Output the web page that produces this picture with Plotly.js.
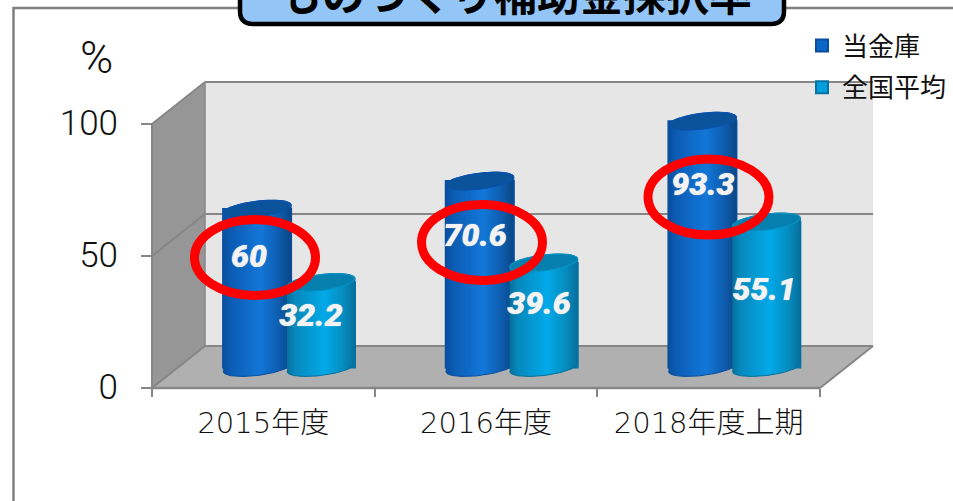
<!DOCTYPE html>
<html><head><meta charset="utf-8">
<script src="https://cdn.plot.ly/plotly-3.0.1.min.js"></script>
<style>html,body{margin:0;padding:0;background:#fff;overflow:hidden}#c{width:953px;height:501px}</style>
</head><body><div id="c"></div>
<script>
var categories = ['2015年度','2016年度','2018年度上期'];
var ownValues = [60, 70.6, 93.3];
var nationalValues = [32.2, 39.6, 55.1];
var ownName = '当金庫';
var nationalName = '全国平均';
var titleText = 'ものづくり補助金採択率';
var yTicks = [0, 50, 100];

var W = 953, H = 501;
var x0px = 152, x3px = 820, y0px = 388, y100px = 124;
var ux = (x3px - x0px) / 3, uy = (y0px - y100px) / 100;
var X = function (p) { return (p - x0px) / ux; };
var Y = function (p) { return (y0px - p) / uy; };
var xRange = [X(0), X(W)], yRange = [Y(H), Y(0)];

var depthX = 53 / ux, depthY = 42 / uy;
var floorLift = 20.5 / uy;
var halfW = 34 / ux, ry = 8 / uy, skew = 4 / uy;
var ownOffset = 0.472, nationalOffset = 0.759;
var ownLabelX = [0.436, 1.451, 2.474], ownLabelY = [49, 57, 76.2];
var nationalLabelX = [0.714, 1.738, 2.749], nationalLabelY = [26.4, 31, 36.2];

var ownStops = [[0,'#0A4E9E'],[0.12,'#0B5CB4'],[0.55,'#1277D8'],[0.82,'#0D5CAE'],[1,'#0A4684']];
var natStops = [[0,'#066F9C'],[0.12,'#0688BC'],[0.55,'#02A9E8'],[0.82,'#058DC0'],[1,'#066F9C']];

function arc(cx, cy, t0, t1) {
  var xs = [], ys = [], n = 40;
  for (var i = 0; i <= n; i++) {
    var t = t0 + (t1 - t0) * i / n;
    xs.push(cx + halfW * Math.cos(t));
    ys.push(cy + ry * Math.sin(t) + skew * Math.cos(t));
  }
  return [xs, ys];
}
function cylinder(cx, v, stops, capFill, capLine, edge) {
  var b = arc(cx, floorLift, Math.PI, 2 * Math.PI);
  var top = arc(cx, floorLift + v, 0, Math.PI);
  var cap = arc(cx, floorLift + v, 0, 2 * Math.PI);
  return [{
    type: 'scatter', mode: 'lines', x: b[0].concat(top[0]), y: b[1].concat(top[1]),
    fill: 'toself', fillgradient: {type: 'horizontal', colorscale: stops},
    line: {color: edge, width: 1}, showlegend: false, hoverinfo: 'skip'
  }, {
    type: 'scatter', mode: 'lines', x: cap[0], y: cap[1], fill: 'toself', fillcolor: capFill,
    line: {color: capLine, width: 1.2}, showlegend: false, hoverinfo: 'skip'
  }];
}

var traces = [];
function barTrace(name, vals, off, color, edge) {
  return {
    type: 'bar', name: name, legendgroup: name,
    x: vals.map(function (_, i) { return i + off; }),
    y: vals, base: floorLift, width: 2 * halfW,
    marker: {color: color, line: {color: edge, width: 2}},
    hoverinfo: 'skip'
  };
}
traces.push(barTrace(ownName, ownValues, ownOffset, '#0B67C6', '#0A4E9E'));
traces.push(barTrace(nationalName, nationalValues, nationalOffset, '#049FDC', '#0673A4'));
ownValues.forEach(function (v, i) {
  traces = traces.concat(cylinder(i + ownOffset, v, ownStops, '#0A5299', '#0B52AE', '#0A4E9E'));
});
nationalValues.forEach(function (v, i) {
  traces = traces.concat(cylinder(i + nationalOffset, v, natStops, '#0580AE', '#0592C4', '#066F9C'));
});
var labelFont = {family: 'Roboto, "Open Sans", sans-serif', size: 32, weight: 900, style: 'italic', color: '#F3F3F3', shadow: '0 0 1px #F3F3F3'};
traces.push({type: 'scatter', mode: 'text', x: ownLabelX, y: ownLabelY, text: ownValues.map(String),
  textfont: labelFont, textposition: 'middle center', showlegend: false, hoverinfo: 'skip'});
traces.push({type: 'scatter', mode: 'text', x: nationalLabelX, y: nationalLabelY, text: nationalValues.map(String),
  textfont: labelFont, textposition: 'middle center', showlegend: false, hoverinfo: 'skip'});

function poly(pts, fill, lineColor, lineW) {
  var d = pts.map(function (p, i) { return (i ? 'L' : 'M') + p[0] + ',' + p[1]; }).join(' ') + ' Z';
  return {type: 'path', path: d, xref: 'x', yref: 'y', layer: 'below', fillcolor: fill, line: {color: lineColor, width: lineW}};
}
function seg(a, b, c, w, layer) {
  return {type: 'line', xref: 'x', yref: 'y', x0: a[0], y0: a[1], x1: b[0], y1: b[1], layer: layer || 'below', line: {color: c, width: w}};
}
var grey = '#868686';
var shapes = [
  poly([[depthX, depthY],[3 + depthX, depthY],[3 + depthX, 100 + depthY],[depthX, 100 + depthY]], '#E6E6E6', 'rgba(0,0,0,0)', 0),
  poly([[0, 0],[depthX, depthY],[depthX, 100 + depthY],[0, 100]], '#969696', 'rgba(0,0,0,0)', 0),
  poly([[0, 0],[3, 0],[3 + depthX, depthY],[depthX, depthY]], '#B0B0B0', 'rgba(0,0,0,0)', 0),
  seg([0, 100], [depthX, 100 + depthY], grey, 2),
  seg([depthX, 100 + depthY], [3 + depthX, 100 + depthY], grey, 2),
  seg([0, 0], [0, 100], grey, 2),
  seg([depthX, depthY], [depthX, 100 + depthY], grey, 1.5),
  seg([0, 50], [depthX, 50 + depthY], grey, 2),
  seg([depthX, 50 + depthY], [3 + depthX, 50 + depthY], grey, 2),
  seg([depthX, depthY], [3 + depthX, depthY], grey, 2),
  seg([0, 0], [depthX, depthY], grey, 2),
  seg([3, 0], [3 + depthX, depthY], grey, 2),
  seg([0, 0], [3, 0], grey, 2.5)
];
// chart frame
shapes.push({type: 'path', xref: 'paper', yref: 'paper', layer: 'below',
  path: 'M' + 13.5 / W + ',0 L' + 13.5 / W + ',' + (1 - 8 / H) + ' L1,' + (1 - 8 / H),
  line: {color: '#808080', width: 2.5}, fillcolor: 'rgba(0,0,0,0)'});
// highlight rings
[[255, 257.5], [482, 242.5], [708.5, 197]].forEach(function (c) {
  shapes.push({type: 'circle', xref: 'x', yref: 'y', layer: 'above',
    x0: X(c[0] - 60.5), x1: X(c[0] + 60.5), y0: Y(c[1] + 38), y1: Y(c[1] - 38),
    line: {color: '#FF0000', width: 9}, fillcolor: 'rgba(0,0,0,0)'});
});
// title box
(function () {
  var l = 240, r = 784, b = 24, rad = 13, fx = function (p) { return p / W; }, fy = function (p) { return 1 - p / H; };
  shapes.push({type: 'path', xref: 'paper', yref: 'paper', layer: 'above',
    path: 'M' + fx(l) + ',' + fy(-10) + ' L' + fx(l) + ',' + fy(b - rad) +
      ' Q' + fx(l) + ',' + fy(b) + ' ' + fx(l + rad) + ',' + fy(b) +
      ' L' + fx(r - rad) + ',' + fy(b) +
      ' Q' + fx(r) + ',' + fy(b) + ' ' + fx(r) + ',' + fy(b - rad) +
      ' L' + fx(r) + ',' + fy(-10) + ' Z',
    fillcolor: '#93C6F6', line: {color: '#000000', width: 4.5}});
})();

var layout = {
  width: W, height: H, margin: {l: 0, r: 0, t: 0, b: 0, pad: 0}, autosize: false,
  paper_bgcolor: '#FFFFFF', plot_bgcolor: 'rgba(0,0,0,0)',
  barmode: 'overlay', showlegend: true, hovermode: false,
  font: {family: '"Noto Sans CJK JP", sans-serif', color: '#000'},
  xaxis: {
    range: xRange, domain: [0, 1], anchor: 'free', position: (H - y0px) / H,
    tickmode: 'array', tickvals: [0.5, 1.5, 2.5], ticktext: categories, ticks: '',
    showgrid: false, zeroline: false, showline: false, automargin: false,
    tickfont: {family: '"DejaVu Sans", "Noto Sans CJK JP", sans-serif', size: 29, weight: 300, color: '#111'},
    ticklabelstandoff: 15,
    minor: {tickmode: 'array', tickvals: [0, 1, 2, 3], ticks: 'outside', ticklen: 8, tickwidth: 2, tickcolor: grey, showgrid: false}
  },
  yaxis: {
    range: yRange, domain: [0, 1], anchor: 'free', position: x0px / W,
    tickmode: 'array', tickvals: yTicks, ticks: 'outside', ticklen: 11, tickwidth: 2, tickcolor: grey,
    showgrid: false, zeroline: false, showline: false, automargin: false,
    tickfont: {family: 'Roboto, "Liberation Sans", sans-serif', size: 35, weight: 300, color: '#111'},
    ticklabelstandoff: 16, ticklabelshift: -1
  },
  legend: {
    x: 802 / W, y: 1 - 22 / H, xanchor: 'left', yanchor: 'top', bgcolor: 'rgba(0,0,0,0)',
    font: {family: '"Noto Sans CJK JP", sans-serif', size: 26, color: '#111'},
    tracegroupgap: 5, traceorder: 'grouped', itemclick: false, itemdoubleclick: false
  },
  shapes: shapes,
  annotations: [
    {text: titleText, xref: 'paper', yref: 'paper', x: 515 / W, y: 1, xanchor: 'center', yanchor: 'middle', yshift: 8, showarrow: false,
      font: {family: '"Noto Sans CJK JP", sans-serif', size: 43, weight: 700, color: '#000'}},
    {text: '%', xref: 'paper', yref: 'paper', x: 96 / W, y: 1 - 58 / H, xanchor: 'center', yanchor: 'middle', showarrow: false,
      font: {family: 'Roboto, "Liberation Sans", sans-serif', size: 45, weight: 300, color: '#111'}}
  ]
};
Plotly.newPlot('c', traces, layout, {displayModeBar: false, staticPlot: false});
</script></body></html>
